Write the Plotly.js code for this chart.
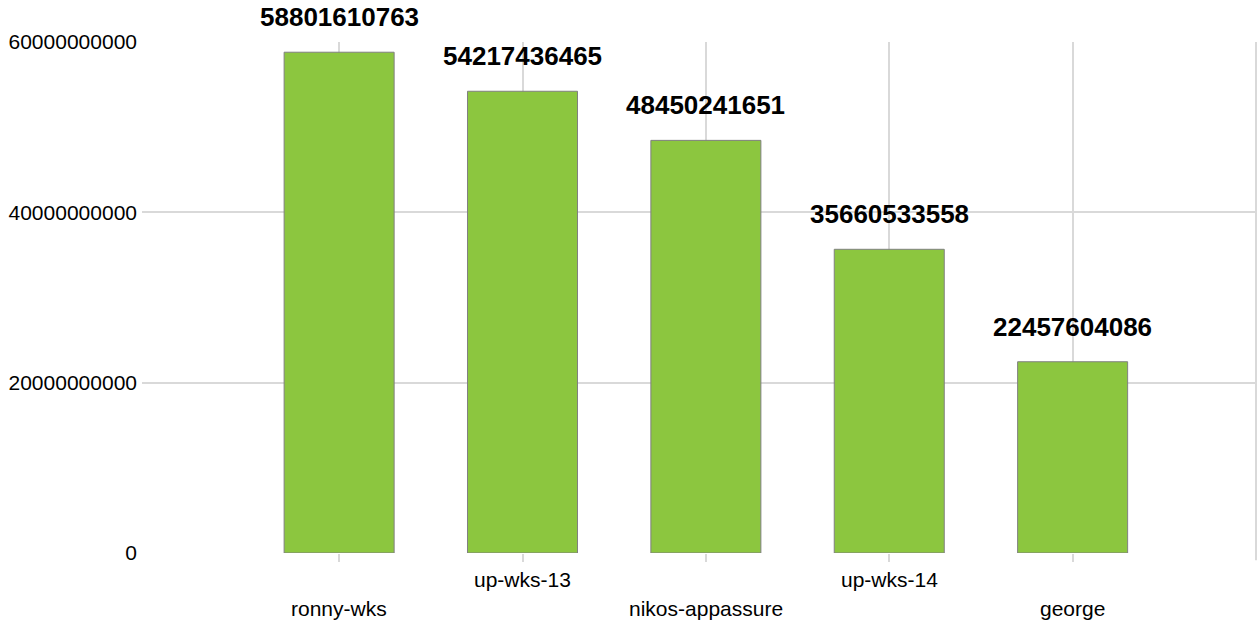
<!DOCTYPE html>
<html>
<head>
<meta charset="utf-8">
<script src="https://cdn.plot.ly/plotly-3.0.1.min.js"></script>
<style>html,body{margin:0;padding:0;background:#fff;}#chart{width:1258px;height:623px;}</style>
</head>
<body>
<div id="chart"></div>
<script>
const categories = ["ronny-wks", "up-wks-13", "nikos-appassure", "up-wks-14", "george"];
const values = [58801610763, 54217436465, 48450241651, 35660533558, 22457604086];
const yTickVals = [0, 20000000000, 40000000000, 60000000000];
const yTickText = ["0", "20000000000", "40000000000", "60000000000"];

const idx = categories.map((c, i) => i);
const gridColor = "#d9d9d9";

const trace = {
  type: "bar",
  x: idx,
  y: values,
  width: 0.6,
  marker: { color: "#8cc63f", line: { color: "#808080", width: 1 } },
  hoverinfo: "skip"
};

const valueLabels = values.map((v, i) => ({
  x: i, y: v, xref: "x", yref: "y",
  text: String(v), showarrow: false,
  yanchor: "bottom", yshift: 18,
  font: { family: "Liberation Sans, Arial, sans-serif", size: 26, color: "#000", weight: "bold" }
}));

const catLabels = categories.map((c, i) => ({
  x: i, y: 0, xref: "x", yref: "y",
  text: c, showarrow: false,
  yanchor: "top", yshift: (i % 2 === 0) ? -42 : -13,
  font: { family: "Liberation Sans, Arial, sans-serif", size: 21, color: "#000" }
}));

const layout = {
  width: 1258, height: 623,
  margin: { l: 142, r: 2, t: 42, b: 70 },
  paper_bgcolor: "#fff", plot_bgcolor: "#fff",
  showlegend: false,
  xaxis: {
    range: [-1.075, 5],
    tickvals: idx, showticklabels: false,
    ticks: "outside", ticklen: 8, tickwidth: 2, tickcolor: gridColor,
    showgrid: true, gridcolor: gridColor, gridwidth: 2,
    zeroline: false, showline: false, fixedrange: true
  },
  yaxis: {
    range: [0, 60000000000],
    tickvals: yTickVals, ticktext: yTickText,
    ticks: "", showgrid: true, gridcolor: gridColor, gridwidth: 2,
    zeroline: false, showline: false, ticklabelstandoff: 4,
    tickfont: { family: "Liberation Sans, Arial, sans-serif", size: 21, color: "#000" },
    fixedrange: true
  },
  shapes: [{
    type: "line", xref: "paper", yref: "paper", x0: 1, x1: 1, y0: -0.014, y1: 1,
    line: { color: gridColor, width: 2 }
  }],
  annotations: valueLabels.concat(catLabels)
};

Plotly.newPlot("chart", [trace], layout, { displayModeBar: false, staticPlot: true });
</script>
</body>
</html>
